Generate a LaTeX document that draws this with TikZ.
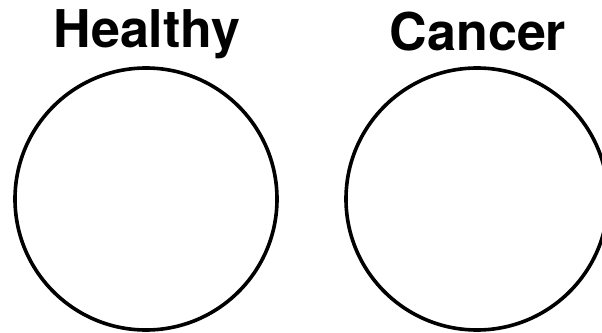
\documentclass[tikz,border=0pt]{standalone}
\usepackage{fontspec}
\setmainfont{TeX Gyre Heros}
\usepackage{tikz}
\usetikzlibrary{positioning}

\begin{document}
\begin{tikzpicture}[x=1pt,y=1pt,
  cell/.style={draw,circle,line width=3.6pt,minimum size=262pt,inner sep=0pt},
  lbl/.style={font=\fontsize{52}{52}\selectfont\bfseries,anchor=base,inner sep=0pt}]
\clip (0,0) rectangle (602,332);
\node[cell](hc) at (146,133){};
\node[cell](cc) at (477,133){};
\node[lbl](hl) at (147,284){Healthy};
\node[lbl](cl) at (478,281){Cancer};
\end{tikzpicture}
\end{document}
